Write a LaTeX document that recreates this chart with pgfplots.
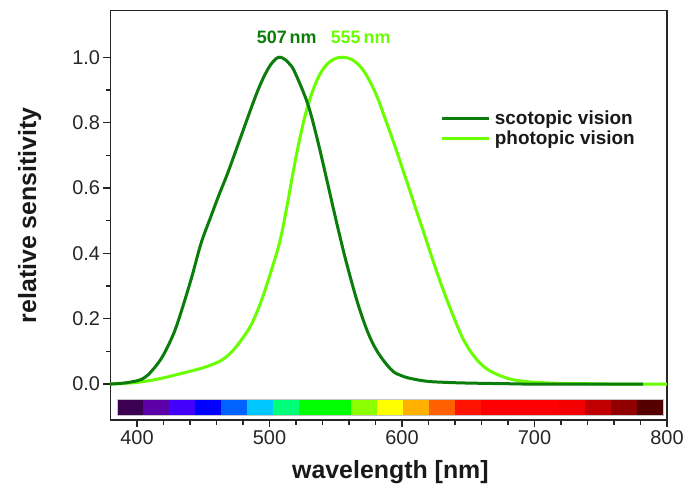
\documentclass[border=0pt]{standalone}
\usepackage{fontspec}
\setmainfont{Liberation Sans}
\usepackage{pgfplots}
\pgfplotsset{compat=1.18}
\definecolor{scot}{RGB}{10,125,10}
\definecolor{phot}{RGB}{105,255,0}
\definecolor{s1}{RGB}{60,0,82}
\definecolor{s2}{RGB}{92,0,168}
\definecolor{s3}{RGB}{68,0,255}
\definecolor{s4}{RGB}{0,0,255}
\definecolor{s5}{RGB}{0,98,255}
\definecolor{s6}{RGB}{0,200,255}
\definecolor{s7}{RGB}{0,255,120}
\definecolor{s8}{RGB}{0,255,0}
\definecolor{s9}{RGB}{140,255,0}
\definecolor{s10}{RGB}{255,255,0}
\definecolor{s11}{RGB}{255,176,0}
\definecolor{s12}{RGB}{255,96,0}
\definecolor{s13}{RGB}{255,18,0}
\definecolor{s14}{RGB}{255,0,0}
\definecolor{s15}{RGB}{245,0,0}
\definecolor{s16}{RGB}{192,0,0}
\definecolor{s17}{RGB}{145,0,0}
\definecolor{s18}{RGB}{85,0,0}
\newcommand{\seg}[3]{\addplot[fill=#3, draw=none, forget plot] coordinates {(#1,-0.097)(#2,-0.097)(#2,-0.047)(#1,-0.047)} --cycle;}
\begin{document}
\begin{tikzpicture}
\path[use as bounding box] (-110.5bp,-75bp) rectangle (576.5bp,420bp);
\begin{axis}[
  at={(0,0)}, anchor=south west,
  scale only axis, width=556.5bp, height=409.5bp,
  xmin=380, xmax=800, ymin=-0.11, ymax=1.143,
  xtick={400,500,600,700,800}, minor x tick num=4,
  ytick={0,0.2,0.4,0.6,0.8,1.0}, minor y tick num=1,
  tick align=outside, xtick pos=bottom, ytick pos=left,
  major tick length=7bp, minor tick length=4.5bp,
  axis line style={line width=1.2bp, black!85},
  every tick/.style={line width=1.2bp, black!85},
  every minor tick/.style={line width=1.2bp, black!85},
  /pgf/number format/assume math mode=true,
  yticklabel style={/pgf/number format/.cd, fixed, fixed zerofill, precision=1},
  xticklabel style={/pgf/number format/.cd, fixed, set thousands separator={}},
  tick label style={font=\fontsize{20}{24}\selectfont, text=black!85},
  xlabel={wavelength [nm]}, ylabel={relative sensitivity},
  label style={font=\bfseries\fontsize{25}{30}\selectfont, text=black!90},
  xlabel style={at={(axis description cs:0.503,-0.127)}, anchor=center},
  ylabel style={at={(axis description cs:-0.145,0.5)}, anchor=center},
  legend style={draw=none, fill=none, at={(axis description cs:0.588,0.765)}, anchor=north west,
    font=\bfseries\fontsize{19}{22}\selectfont, row sep=1bp, text=black!90,
    nodes={inner xsep=4bp}},
  legend cell align=left,
  legend image code/.code={\draw[#1] (0bp,0bp) -- (47bp,0bp);},
  reverse legend,
]
\seg{385}{404.6}{s1}
\seg{404.6}{424.3}{s2}
\seg{424.3}{443.9}{s3}
\seg{443.9}{463.5}{s4}
\seg{463.5}{483.2}{s5}
\seg{483.2}{502.8}{s6}
\seg{502.8}{522.4}{s7}
\seg{522.4}{561.7}{s8}
\seg{561.7}{581.3}{s9}
\seg{581.3}{601.0}{s10}
\seg{601.0}{620.6}{s11}
\seg{620.6}{640.2}{s12}
\seg{640.2}{659.9}{s13}
\seg{659.9}{718.8}{s14}
\seg{718.8}{738.4}{s15}
\seg{738.4}{758.0}{s16}
\seg{758.0}{777.7}{s17}
\seg{777.7}{797.3}{s18}
\addplot[draw=gray!45, line width=0.6bp, forget plot] coordinates {(385,-0.097)(797.3,-0.097)(797.3,-0.047)(385,-0.047)} --cycle;

\addplot[phot, line width=3bp, smooth, tension=0.6] coordinates {
(380,0) (390,0.002) (400,0.005) (410,0.011) (420,0.019) (435,0.034) (450,0.05)
(461,0.067) (467,0.082) (473.4,0.107) (480,0.142) (486,0.18) (491,0.225) (496,0.28)
(503.5,0.375) (508.6,0.45) (513,0.54) (518.6,0.665) (523.6,0.765) (528.7,0.848) (535,0.922)
(541.2,0.968) (548,0.993) (555,1.0) (562,0.993) (568.8,0.97) (575,0.932) (581.4,0.877)
(587,0.815) (593.9,0.737) (604,0.615) (616.5,0.462) (629.1,0.31) (641.7,0.178) (648,0.124)
(654.2,0.086) (661,0.056) (669.3,0.034) (681.9,0.015) (695,0.007) (707,0.004) (720,0.002)
(740,0.001) (760,0) (800,0)};
\addlegendentry{photopic vision}
\addplot[scot, line width=3bp, smooth, tension=0.6] coordinates {
(380,0) (390,0.003) (400,0.01) (405,0.018) (410,0.035) (418,0.076) (425,0.13) (430.7,0.188)
(440.8,0.32) (448.3,0.43) (455.8,0.513) (462,0.58) (468.4,0.645) (478.4,0.757) (488.4,0.869)
(494,0.925) (499,0.965) (503,0.988) (507,1.0) (511,0.995) (515,0.98) (519,0.955) (528.7,0.859) (536.2,0.747)
(543.8,0.615) (551.3,0.483) (558.8,0.36) (568.8,0.219) (578.9,0.117) (591.4,0.046)
(600,0.025) (609,0.015) (620,0.008) (634,0.005) (650,0.003) (680,0.001) (700,0) (782,0)};
\addlegendentry{scotopic vision}
\node[text=scot, font=\bfseries\fontsize{18}{21}\selectfont] at (axis cs:513,1.06) {507\,nm};
\node[text=phot, font=\bfseries\fontsize{18}{21}\selectfont] at (axis cs:568.8,1.06) {555\,nm};
\end{axis}
\end{tikzpicture}
\end{document}
